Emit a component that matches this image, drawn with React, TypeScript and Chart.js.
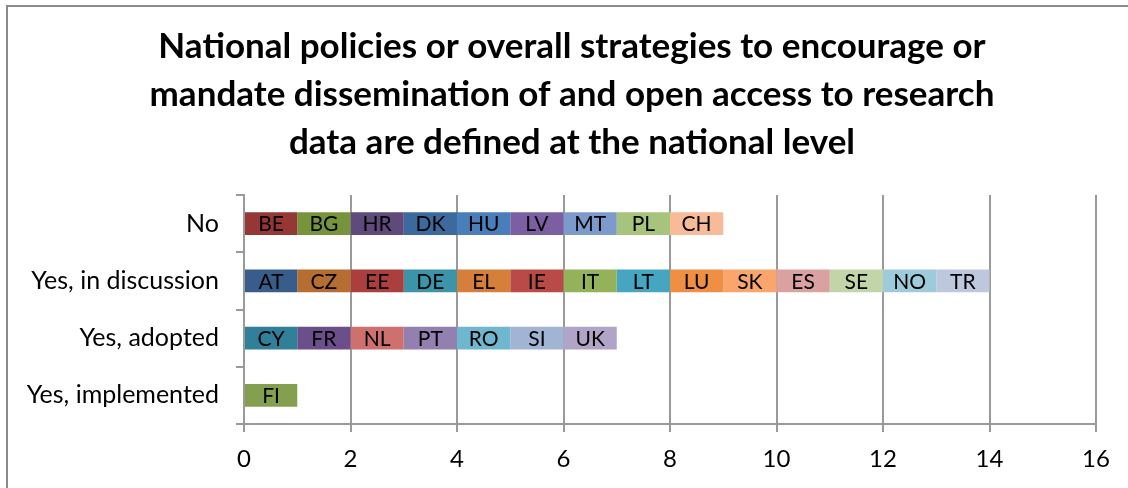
import React, { useEffect, useRef } from "react";
import { Chart, registerables } from "chart.js";

Chart.register(...registerables);

const titleLines = [
  "National policies or overall strategies to encourage or",
  "mandate dissemination of and open access to research",
  "data are defined at the national level",
];

const categories = ["No", "Yes, in discussion", "Yes, adopted", "Yes, implemented"];

const noCountries = ["BE", "BG", "HR", "DK", "HU", "LV", "MT", "PL", "CH"];
const noValues = [1, 1, 1, 1, 1, 1, 1, 1, 1];
const noColors = ["#953735", "#77933C", "#604A7B", "#3D6A9E", "#4A7EBB", "#7B5FA0", "#7C9ACC", "#A7C47C", "#F8BB98"];

const discussionCountries = ["AT", "CZ", "EE", "DE", "EL", "IE", "IT", "LT", "LU", "SK", "ES", "SE", "NO", "TR"];
const discussionValues = [1, 1, 1, 1, 1, 1, 1, 1, 1, 1, 1, 1, 1, 1];
const discussionColors = ["#385D8A", "#B66D31", "#AA3F3D", "#3C94AA", "#D67F3A", "#B94A48", "#93B25A", "#46A5C0", "#EE8F43", "#F9A56B", "#D9A2A1", "#C2D5A8", "#9ECBDB", "#BEC8DD"];

const adoptedCountries = ["CY", "FR", "NL", "PT", "RO", "SI", "UK"];
const adoptedValues = [1, 1, 1, 1, 1, 1, 1];
const adoptedColors = ["#31809A", "#6A4F8A", "#CD706E", "#9380B0", "#6FB7CF", "#A2B4D4", "#B2A4C6"];

const implementedCountries = ["FI"];
const implementedValues = [1];
const implementedColors = ["#84A04F"];

const xTicks = [0, 2, 4, 6, 8, 10, 12, 14, 16];

const FONT = "Lato, 'Open Sans', sans-serif";
const GRID = "#9a9a9a";

function buildDatasets() {
  const groups = [
    { names: noCountries, values: noValues, colors: noColors },
    { names: discussionCountries, values: discussionValues, colors: discussionColors },
    { names: adoptedCountries, values: adoptedValues, colors: adoptedColors },
    { names: implementedCountries, values: implementedValues, colors: implementedColors },
  ];
  const ds: any[] = [];
  groups.forEach((g, gi) => {
    g.names.forEach((name, i) => {
      const data = categories.map((_, ci) => (ci === gi ? g.values[i] : null));
      ds.push({
        label: name,
        data,
        backgroundColor: g.colors[i],
        borderWidth: 0,
        barPercentage: 0.4,
        categoryPercentage: 1,
      });
    });
  });
  return ds;
}

const segmentLabels = {
  id: "segmentLabels",
  afterDatasetsDraw(chart: any) {
    const ctx = chart.ctx;
    ctx.save();
    ctx.font = `21px ${FONT}`;
    ctx.fillStyle = "#000";
    ctx.textAlign = "center";
    ctx.textBaseline = "middle";
    chart.data.datasets.forEach((d: any, di: number) => {
      const meta = chart.getDatasetMeta(di);
      meta.data.forEach((el: any, i: number) => {
        if (d.data[i] == null) return;
        const cx = (el.x + el.base) / 2;
        ctx.fillText(d.label, cx, el.y + 1);
      });
    });
    ctx.restore();
  },
};

const titleText = {
  id: "titleText",
  afterDraw(chart: any) {
    const ctx = chart.ctx;
    ctx.save();
    ctx.font = `bold 35px ${FONT}`;
    ctx.fillStyle = "#000";
    ctx.textAlign = "center";
    ctx.textBaseline = "middle";
    titleLines.forEach((line, i) => {
      ctx.fillText(line, 572, 47 + i * 48);
    });
    ctx.restore();
  },
};

export default function App() {
  const ref = useRef<HTMLCanvasElement>(null);
  useEffect(() => {
    if (!ref.current) return;
    const chart = new Chart(ref.current, {
      type: "bar",
      data: { labels: categories, datasets: buildDatasets() },
      plugins: [segmentLabels, titleText],
      options: {
        animation: false,
        responsive: false,
        indexAxis: "y",
        layout: { padding: { top: 195, left: 0, right: 32, bottom: 0 } },
        plugins: {
          legend: { display: false },
          tooltip: { enabled: false },
          title: { display: false },
        },
        scales: {
          x: {
            stacked: true,
            min: 0,
            max: 16,
            afterBuildTicks(scale: any) {
              scale.ticks = xTicks.map((v) => ({ value: v }));
            },
            afterFit(scale: any) {
              scale.height = 64;
            },
            grid: { color: GRID, lineWidth: 2, tickLength: 8 },
            border: { display: true, color: GRID, width: 2 },
            ticks: { color: "#000", font: { family: FONT, size: 24 }, padding: 13, maxRotation: 0 },
          },
          y: {
            stacked: true,
            afterFit(scale: any) {
              scale.width = 244;
            },
            grid: { display: true, drawOnChartArea: false, color: GRID, lineWidth: 2, tickLength: 8, offset: true },
            border: { display: true, color: GRID, width: 2 },
            ticks: { color: "#000", font: { family: FONT, size: 25 }, padding: 17 },
          },
        },
      },
    });
    return () => chart.destroy();
  }, []);
  return (
    <div style={{ position: "fixed", left: 0, top: 0, width: 1128, height: 488, overflow: "hidden", background: "#fff" }}>
      <div style={{ position: "absolute", left: 6, top: 5, width: 1300, height: 700, border: "2px solid #8a8a8a" }} />
      <canvas ref={ref} width={1128} height={488} style={{ position: "absolute", left: 0, top: 0, width: 1128, height: 488 }} />
    </div>
  );
}
